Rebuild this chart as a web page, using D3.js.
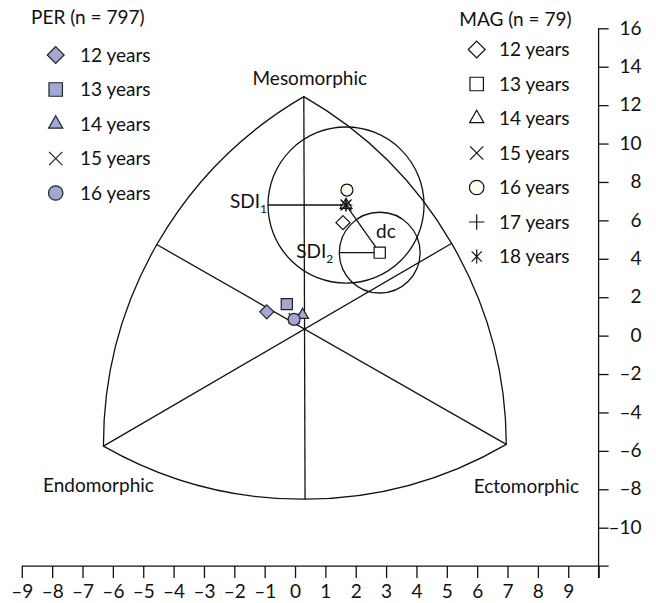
<!DOCTYPE html>
<html>
<head>
<meta charset="utf-8">
<script src="https://cdn.jsdelivr.net/npm/d3@7"></script>
<style>
	body {margin: 0; background: #fff}
	svg {display: block; font-family: Lato, "Open Sans", sans-serif; font-size: 19px; fill: #111}
</style>
</head>
<body>
<svg id="chart" width="656" height="603"></svg>
<script>

// PER group (n = 797), mean somatotype points (X = ecto - endo, Y = 2 meso - endo - ecto)
const perAges = [12, 13, 14, 15, 16]
const perX = [-0.93, -0.27, 0.25, -0.03, -0.03]
const perY = [1.24, 1.64, 1.07, 0.88, 0.85]

// MAG group (n = 79)
const magAges = [12, 13, 14, 15, 16, 17, 18]
const magX = [1.58, 2.79, 1.68, 1.68, 1.71, 1.68, 1.68]
const magY = [5.88, 4.32, 6.80, 6.80, 7.58, 6.80, 6.80]

// somatochart corners: meso, endo, ecto
const cornerNames = ["Mesomorphic", "Endomorphic", "Ectomorphic"]
const cornerX = [0.29, -6.31, 6.96]
const cornerY = [12.44, -5.75, -5.66]

// SDI circles (in X units): SDI1 round the 18 yr MAG mean, SDI2 round the 13 yr one
const sdiValues = [2.57, 1.33]

const xTicks = [-9, -8, -7, -6, -5, -4, -3, -2, -1, 0, 1, 2, 3, 4, 5, 6, 7, 8, 9, 10]
const yTicks = [16, 14, 12, 10, 8, 6, 4, 2, 0, -2, -4, -6, -8, -10]

const svg = d3.select("#chart")

const x = d3.scaleLinear().domain([-9, 10]).range([21.8, 598.6])
const y = d3.scaleLinear().domain([16, -10]).range([28.3, 527.7])

const tickLen = 12
const axisY = y(-12)

//---- axes
const fmt = v => v < 0 ? "\u2013" + Math.abs(v) : "" + v

const gx = svg.append("g").attr("transform", `translate(0,${axisY})`)
	.call(d3.axisBottom(x).tickValues(xTicks).tickSize(tickLen).tickSizeOuter(0)
		.tickFormat(v => v === 10 ? "" : fmt(v)))
	.attr("font-size", null).attr("font-family", null)
gx.select(".domain").remove()
gx.selectAll("line").attr("stroke", "#111").attr("stroke-width", 1.3)
gx.selectAll("text").attr("fill", "#111").attr("dy", "1.05em").attr("y", tickLen)
gx.append("line").attr("x1", x(-9)).attr("x2", x(10) + 10).attr("stroke", "#111").attr("stroke-width", 1.3)

const gy = svg.append("g").attr("transform", `translate(${x(10)},0)`)
	.call(d3.axisRight(y).tickValues(yTicks).tickSize(10).tickSizeOuter(0).tickFormat(fmt))
	.attr("font-size", null).attr("font-family", null)
gy.select(".domain").remove()
gy.selectAll("line").attr("stroke", "#111").attr("stroke-width", 1.3)
gy.selectAll("text").attr("fill", "#111")
	.attr("text-anchor", "end").attr("x", 43).attr("dy", "0.3em")
gy.append("line").attr("y1", y(16)).attr("y2", axisY + tickLen).attr("stroke", "#111").attr("stroke-width", 1.3)

//---- somatochart (Reuleaux triangle, drawn in pixel space)
const corners = cornerX.map((v, i) => [x(v), y(cornerY[i])])
const [mesoPt, endoPt, ectoPt] = corners
const dist = (a, b) => Math.hypot(a[0] - b[0], a[1] - b[1])
const side = (dist(mesoPt, endoPt) + dist(endoPt, ectoPt) + dist(ectoPt, mesoPt)) / 3
const centre = [d3.mean(corners, c => c[0]), d3.mean(corners, c => c[1])]

const chart = svg.append("g").attr("fill", "none").attr("stroke", "#111").attr("stroke-width", 1.3)

chart.append("path")
	.attr("d", `M ${mesoPt} A ${side} ${side} 0 0 0 ${endoPt} A ${side} ${side} 0 0 0 ${ectoPt} A ${side} ${side} 0 0 0 ${mesoPt} Z`)

// each corner to the middle of the opposite arc, through the centre
chart.selectAll("line.axisLine")
	.data(corners)
	.join("line")
		.attr("x1", c => c[0]).attr("y1", c => c[1])
		.attr("x2", c => c[0] + (centre[0] - c[0]) / dist(c, centre) * side)
		.attr("y2", c => c[1] + (centre[1] - c[1]) / dist(c, centre) * side)

svg.selectAll("text.corner")
	.data(cornerNames)
	.join("text")
		.attr("text-anchor", "middle")
		.attr("x", (n, i) => corners[i][0] + [6, -5, 20][i])
		.attr("y", (n, i) => corners[i][1] + [-12, 46, 49][i])
		.text(n => n)

//---- SDI circles and dc
const mean18 = [x(magX[6]), y(magY[6])]
const mean13 = [x(magX[1]), y(magY[1])]
const sdiCentres = [mean18, mean13]

sdiCentres.forEach((c, i) => {
	let r = x(sdiValues[i]) - x(0)
	chart.append("circle").attr("cx", c[0]).attr("cy", c[1]).attr("r", r)
	chart.append("line").attr("x1", c[0] - r).attr("x2", c[0]).attr("y1", c[1]).attr("y2", c[1])

	let lab = svg.append("text")
		.attr("text-anchor", "end")
		.attr("x", c[0] - r - [1, 6][i])
		.attr("y", c[1] + [3, 5.5][i])
	lab.append("tspan").text("SDI")
	lab.append("tspan").attr("font-size", 12).attr("dy", 5).text(i + 1)
})

chart.append("line")
	.attr("x1", mean18[0]).attr("y1", mean18[1])
	.attr("x2", mean13[0]).attr("y2", mean13[1])

svg.append("text")
	.attr("text-anchor", "middle")
	.attr("x", (mean18[0] + mean13[0]) / 2 + 23)
	.attr("y", (mean18[1] + mean13[1]) / 2 + 9)
	.text("dc")

//---- symbols
// X with a vertical stroke through it
const symbolStar = {
	draw(ctx, size) {
		let r = Math.sqrt(size) * 0.6
		let a = r * 0.72
		ctx.moveTo(0, -r); ctx.lineTo(0, r)
		ctx.moveTo(-a, -a); ctx.lineTo(a, a)
		ctx.moveTo(-a, a); ctx.lineTo(a, -a)
	}
}

const shapeFor = {
	12: {type: d3.symbolDiamond2, size: 125},
	13: {type: d3.symbolSquare, size: 125},
	14: {type: d3.symbolTriangle, size: 60},
	15: {type: d3.symbolTimes, size: 80},
	16: {type: d3.symbolCircle, size: 113},
	17: {type: d3.symbolPlus, size: 55},
	18: {type: symbolStar, size: 95},
}
const lineOnly = age => age === 15 || age === 17 || age === 18

const perFill = "#a1a8d4"
const magFill = age => age === 16 ? "#fffdec" : "#fff"

function drawMarks(holder, ages, xs, ys, fill, stroke, scaleUp) {
	holder.selectAll("path")
		.data(ages)
		.join("path")
			.attr("transform", (a, i) => `translate(${xs[i]},${ys[i]})`)
			.attr("d", a => d3.symbol(shapeFor[a].type, shapeFor[a].size * scaleUp)())
			.attr("fill", a => lineOnly(a) ? "none" : fill(a))
			.attr("stroke", stroke)
			.attr("stroke-width", 1.2)
}

// draw 15 first so it sits under the others like in the source
let perOrder = [3, 0, 1, 2, 4]
drawMarks(svg.append("g"), perOrder.map(i => perAges[i]),
	perOrder.map(i => x(perX[i])), perOrder.map(i => y(perY[i])), () => perFill, "#222", 1)

let magOrder = [2, 3, 5, 6, 0, 1, 4]
drawMarks(svg.append("g"), magOrder.map(i => magAges[i]),
	magOrder.map(i => x(magX[i])), magOrder.map(i => y(magY[i])), magFill, "#111", 1)

//---- legends
function legend(title, ages, fill, stroke, sx, tx, titleX, titleY, firstY) {
	const g = svg.append("g")
	g.append("text").attr("x", titleX).attr("y", titleY).text(title)
	const step = 34.5
	drawMarks(g.append("g"), ages, ages.map(() => sx), ages.map((a, i) => firstY + i * step), fill, stroke, 1.45)
	g.selectAll("text.item")
		.data(ages)
		.join("text")
			.attr("class", "item")
			.attr("x", tx)
			.attr("y", (a, i) => firstY + i * step + 6.5)
			.text(a => `${a} years`)
}

legend("PER (n = 797)", perAges, () => perFill, "#222", 55.7, 80, 31, 23.5, 55)
legend("MAG (n = 79)", magAges, magFill, "#111", 476.7, 499, 459.3, 26, 49.5)

</script>
</body>
</html>
